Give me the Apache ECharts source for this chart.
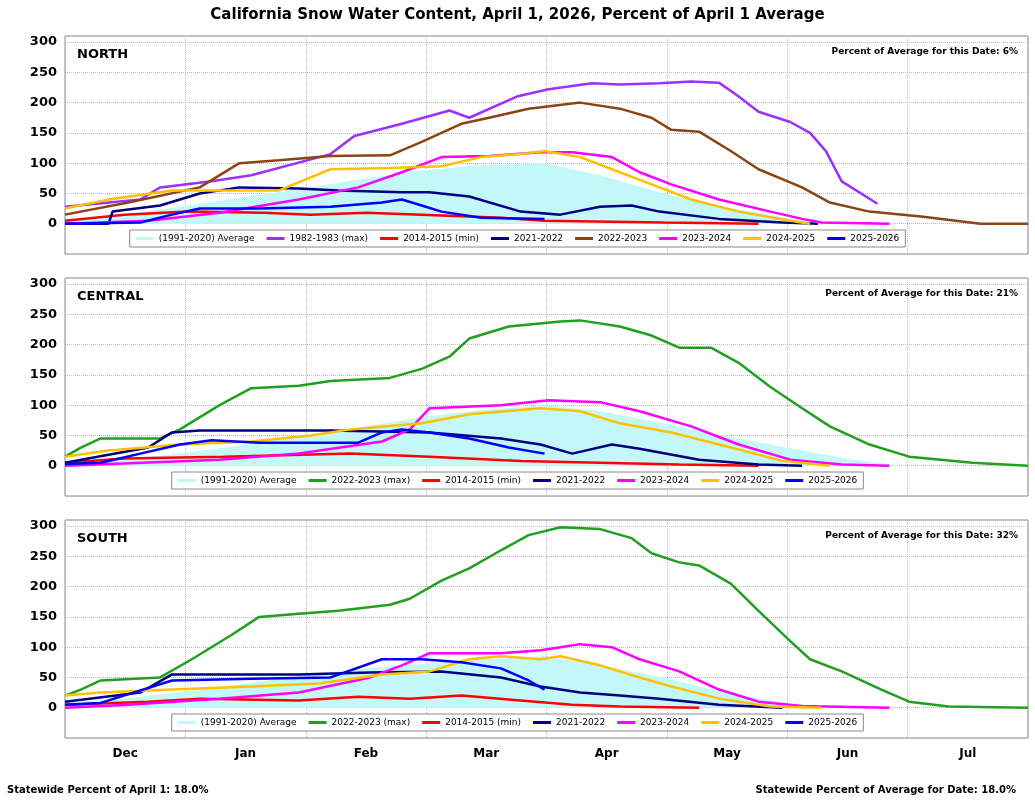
<!DOCTYPE html><html><head><meta charset="utf-8">
<script src="https://cdn.jsdelivr.net/npm/echarts@6/dist/echarts.min.js"></script>
<style>body{margin:0;background:#fff}#c{width:1035px;height:800px}</style></head><body><div id="c"></div>
<script>
const months=['Dec','Jan','Feb','Mar','Apr','May','Jun','Jul'];
const yTicks=[0,50,100,150,200,250,300];
const regions=['NORTH','CENTRAL','SOUTH'];
const pctDate=['6%','21%','32%'];
// day 0 = Dec 1
const avgN=[[0,5],[15,15],[31,30],[46,45],[62,60],[76,75],[90,88],[105,97],[121,100],[135,80],[151,50],[166,28],[182,10],[193,0]];
const avgC=[[0,5],[15,10],[31,22],[46,35],[62,50],[76,65],[90,80],[105,92],[121,100],[135,90],[151,70],[166,50],[182,30],[197,12],[211,0]];
const avgS=[[0,8],[15,15],[31,28],[46,40],[62,55],[76,65],[90,72],[105,80],[121,85],[135,70],[151,50],[166,25],[182,8],[193,0]];
const n8283=[[0,28],[19,40],[24,60],[37,70],[47,80],[67,115],[73,145],[85,165],[97,187],[102,175],[114,210],[122,222],[133,232],[140,230],[150,232],[158,235],[165,233],[170,210],[175,185],[183,168],[188,150],[192,120],[196,70],[205,33]];
const n1415=[[0,5],[15,15],[31,20],[50,18],[62,15],[76,18],[90,15],[110,10],[121,5],[151,2],[175,0]];
const n2122=[[0,0],[11,0],[12,20],[24,30],[34,50],[44,60],[59,58],[69,55],[85,52],[92,52],[102,45],[115,20],[125,15],[135,28],[143,30],[150,20],[165,8],[181,2],[190,0]];
const n2223=[[0,15],[16,35],[34,60],[44,100],[54,105],[67,112],[82,113],[90,135],[100,165],[107,175],[117,190],[130,200],[140,190],[148,175],[153,155],[160,152],[168,120],[175,90],[186,60],[193,35],[203,20],[216,12],[231,0],[243,0]];
const n2324=[[0,0],[21,5],[39,18],[59,40],[74,60],[85,85],[95,110],[107,112],[120,118],[128,118],[138,110],[145,85],[153,65],[165,40],[178,20],[186,8],[191,2],[208,0]];
const n2425=[[0,25],[11,40],[27,55],[44,55],[54,55],[67,90],[82,92],[95,95],[105,110],[115,115],[121,120],[130,110],[140,85],[148,65],[158,40],[170,20],[183,5],[188,0]];
const n2526=[[0,0],[19,2],[27,15],[34,25],[49,25],[67,28],[80,35],[85,40],[90,30],[95,20],[105,10],[121,8]];
const c2223=[[0,15],[4,30],[9,45],[24,45],[29,60],[39,100],[47,128],[59,132],[67,140],[82,145],[90,160],[97,180],[102,210],[112,230],[125,238],[130,240],[140,230],[148,215],[155,195],[163,195],[170,170],[178,130],[186,95],[193,65],[203,35],[213,15],[229,5],[243,0]];
const c1415=[[0,5],[15,12],[40,15],[72,20],[92,15],[115,8],[135,5],[155,2],[175,0]];
const c2122=[[0,5],[21,30],[27,55],[34,58],[67,58],[92,55],[110,45],[120,35],[128,20],[138,35],[145,28],[160,10],[175,2],[186,0]];
const c2324=[[0,0],[39,10],[59,20],[80,40],[87,60],[92,95],[110,100],[122,108],[135,105],[145,90],[158,65],[170,35],[183,10],[196,2],[208,0]];
const c2425=[[0,15],[11,25],[29,35],[47,40],[62,50],[72,60],[90,70],[102,85],[120,95],[130,90],[140,70],[153,55],[168,30],[181,8],[193,0]];
const c2526=[[0,3],[9,5],[19,20],[29,35],[37,42],[49,38],[74,38],[80,55],[85,60],[92,55],[102,45],[112,30],[121,20]];
const s2223=[[0,20],[4,30],[9,45],[24,50],[32,80],[42,120],[49,150],[59,155],[69,160],[82,170],[87,180],[95,210],[102,230],[110,260],[117,285],[125,298],[135,295],[143,280],[148,255],[155,240],[160,235],[168,205],[175,160],[183,110],[188,80],[196,60],[206,30],[213,10],[223,2],[243,0]];
const s1415=[[0,5],[21,10],[34,15],[59,12],[74,18],[87,15],[100,20],[115,12],[128,5],[140,2],[160,0]];
const s2122=[[0,10],[19,25],[27,55],[47,55],[59,55],[77,58],[95,60],[110,50],[120,35],[130,25],[140,20],[150,15],[165,5],[181,0]];
const s2324=[[0,0],[16,5],[39,15],[59,25],[77,50],[85,70],[92,90],[110,90],[120,95],[125,100],[130,105],[138,100],[145,80],[155,60],[165,30],[175,10],[186,3],[208,0]];
const s2425=[[0,20],[9,25],[27,30],[47,35],[64,40],[80,55],[92,60],[102,80],[110,85],[120,80],[125,85],[135,70],[145,50],[153,35],[165,15],[178,2],[191,0]];
const s2526=[[0,5],[9,8],[27,45],[47,48],[67,50],[80,80],[90,80],[100,75],[110,65],[117,45],[121,30]];

const C={avg:'#c4f7f7',p:'#9b30ff',r:'#ff0000',nv:'#000080',br:'#8b4513',m:'#ff00ff',o:'#ffc000',b:'#0000ff',g:'#1fa01f'};
const panels=[
 {avg:avgN,lines:[['1982-1983 (max)',n8283,C.p],['2014-2015 (min)',n1415,C.r],['2021-2022',n2122,C.nv],['2022-2023',n2223,C.br],['2023-2024',n2324,C.m],['2024-2025',n2425,C.o],['2025-2026',n2526,C.b]]},
 {avg:avgC,lines:[['2022-2023 (max)',c2223,C.g],['2014-2015 (min)',c1415,C.r],['2021-2022',c2122,C.nv],['2023-2024',c2324,C.m],['2024-2025',c2425,C.o],['2025-2026',c2526,C.b]]},
 {avg:avgS,lines:[['2022-2023 (max)',s2223,C.g],['2014-2015 (min)',s1415,C.r],['2021-2022',s2122,C.nv],['2023-2024',s2324,C.m],['2024-2025',s2425,C.o],['2025-2026',s2526,C.b]]}
];
const tops=[36,278,520];
const grid=[],xAxis=[],yAxis=[],series=[],legend=[],title=[];
const F='DejaVu Sans';
title.push({text:'California Snow Water Content, April 1, 2026, Percent of April 1 Average',left:'center',top:3,textStyle:{fontSize:15,fontWeight:'bold',color:'#000',fontFamily:F}});
panels.forEach((p,i)=>{
 grid.push({left:65,right:7,top:tops[i],height:218,show:true,borderColor:'#888',borderWidth:1});
 xAxis.push({type:'value',gridIndex:i,min:0,max:243,show:false});
 xAxis.push({type:'category',gridIndex:i,data:months,boundaryGap:true,position:'bottom',
   axisLine:{show:false},axisTick:{show:false},
   axisLabel:{show:i===2,fontSize:12,fontWeight:'bold',color:'#000',margin:10,fontFamily:F},
   splitLine:{show:true,lineStyle:{type:'dotted',color:'#bbb'}}});
 yAxis.push({type:'value',gridIndex:i,min:-50,max:310,interval:50,
   axisLine:{show:false},axisTick:{show:false},
   axisLabel:{fontSize:13,fontWeight:'bold',color:'#000',fontFamily:F,formatter:v=>yTicks.includes(v)?String(v):''},
   splitLine:{lineStyle:{type:'dotted',color:'#bbb'}}});
 const names=['(1991-2020) Average'];
 series.push({name:'(1991-2020) Average',type:'line',xAxisIndex:2*i,yAxisIndex:i,data:p.avg,symbol:'none',
   lineStyle:{width:0},itemStyle:{color:C.avg},areaStyle:{color:C.avg,opacity:1},z:1});
 p.lines.forEach(([nm,d,col])=>{names.push(nm);
   series.push({name:nm,type:'line',xAxisIndex:2*i,yAxisIndex:i,data:d,symbol:'none',
     lineStyle:{width:2.5,color:col},itemStyle:{color:col},z:3});});
 legend.push({data:names.map((n,k)=>k===0?{name:n,icon:'rect'}:{name:n,icon:'rect',itemStyle:{}}),top:tops[i]+194,left:'center',
   itemWidth:18,itemHeight:3,itemGap:12,padding:[4,6],borderColor:'#888',borderWidth:1,backgroundColor:'#fff',
   textStyle:{fontSize:9,color:'#000',fontFamily:F}});
 title.push({text:regions[i],left:72,top:tops[i]+7,textStyle:{fontSize:13,fontWeight:'bold',color:'#000',fontFamily:F}});
 title.push({text:'Percent of Average for this Date: '+pctDate[i],right:12,top:tops[i]+6,textStyle:{fontSize:9,fontWeight:'bold',color:'#000',fontFamily:F}});
});
title.push({text:'Statewide Percent of April 1: 18.0%',left:2,top:780,textStyle:{fontSize:10,fontWeight:'bold',color:'#000',fontFamily:F}});
title.push({text:'Statewide Percent of Average for Date: 18.0%',right:14,top:780,textStyle:{fontSize:10,fontWeight:'bold',color:'#000',fontFamily:F}});
const ch=echarts.init(document.getElementById('c'));
ch.setOption({animation:false,backgroundColor:'#fff',title,grid,xAxis,yAxis,series,legend});
</script></body></html>
